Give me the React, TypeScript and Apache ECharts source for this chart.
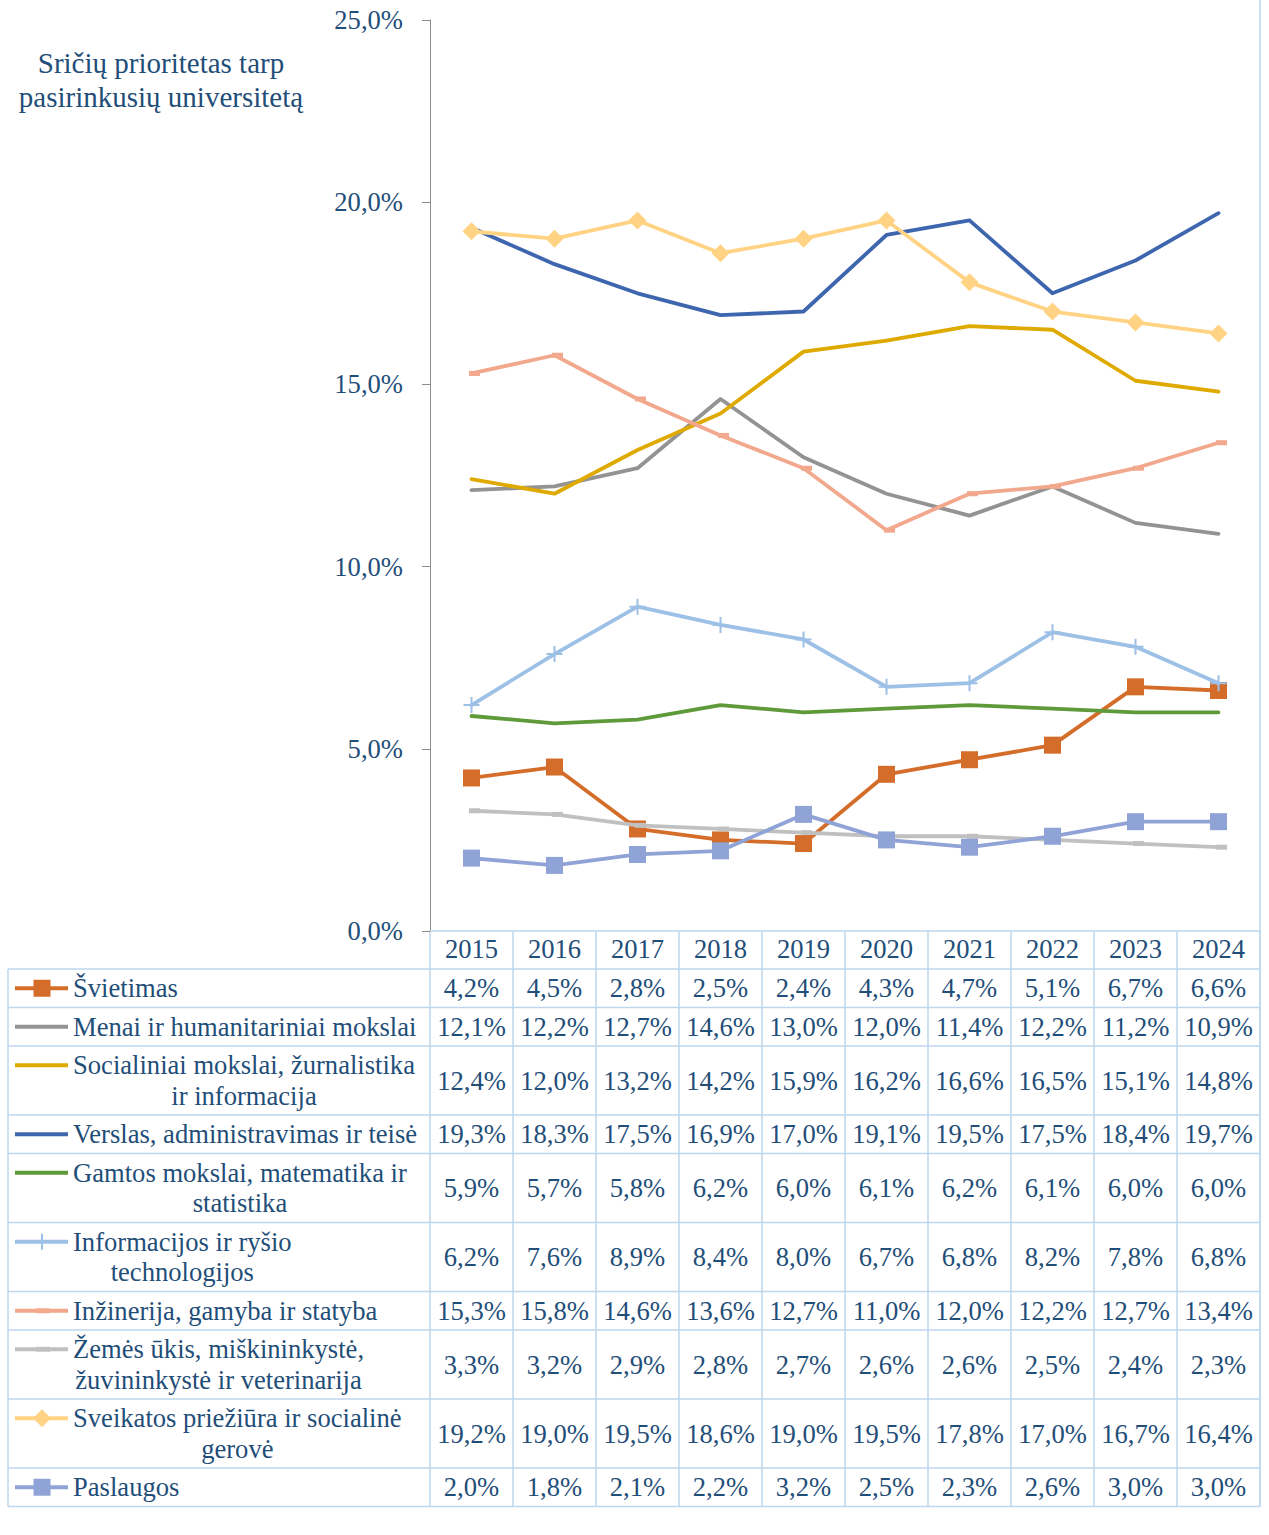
import React, { useEffect, useRef } from "react";
import * as echarts from "echarts";

// ---------- DATA ----------
const years = ["2015", "2016", "2017", "2018", "2019", "2020", "2021", "2022", "2023", "2024"];

const seriesNames = [
  "Švietimas",
  "Menai ir humanitariniai mokslai",
  "Socialiniai mokslai, žurnalistika\nir informacija",
  "Verslas, administravimas ir teisė",
  "Gamtos mokslai, matematika ir\nstatistika",
  "Informacijos ir ryšio\ntechnologijos",
  "Inžinerija, gamyba ir statyba",
  "Žemės ūkis, miškininkystė,\nžuvininkystė ir veterinarija",
  "Sveikatos priežiūra ir socialinė\ngerovė",
  "Paslaugos",
];

const svietimas = [4.2, 4.5, 2.8, 2.5, 2.4, 4.3, 4.7, 5.1, 6.7, 6.6];
const menai = [12.1, 12.2, 12.7, 14.6, 13.0, 12.0, 11.4, 12.2, 11.2, 10.9];
const socialiniai = [12.4, 12.0, 13.2, 14.2, 15.9, 16.2, 16.6, 16.5, 15.1, 14.8];
const verslas = [19.3, 18.3, 17.5, 16.9, 17.0, 19.1, 19.5, 17.5, 18.4, 19.7];
const gamtos = [5.9, 5.7, 5.8, 6.2, 6.0, 6.1, 6.2, 6.1, 6.0, 6.0];
const informacijos = [6.2, 7.6, 8.9, 8.4, 8.0, 6.7, 6.8, 8.2, 7.8, 6.8];
const inzinerija = [15.3, 15.8, 14.6, 13.6, 12.7, 11.0, 12.0, 12.2, 12.7, 13.4];
const zemes = [3.3, 3.2, 2.9, 2.8, 2.7, 2.6, 2.6, 2.5, 2.4, 2.3];
const sveikatos = [19.2, 19.0, 19.5, 18.6, 19.0, 19.5, 17.8, 17.0, 16.7, 16.4];
const paslaugos = [2.0, 1.8, 2.1, 2.2, 3.2, 2.5, 2.3, 2.6, 3.0, 3.0];

const seriesValues = [svietimas, menai, socialiniai, verslas, gamtos, informacijos, inzinerija, zemes, sveikatos, paslaugos];

const seriesColors = [
  "#D46D2A",
  "#939393",
  "#DFAA00",
  "#3E66AE",
  "#5E9A3A",
  "#9DC0E6",
  "#F2A88C",
  "#C0C0C0",
  "#FFD383",
  "#8FA3D6",
];

type MarkerKind = "none" | "square" | "diamond" | "plus" | "dash";
const markerKinds: MarkerKind[] = ["square", "none", "none", "none", "none", "plus", "dash", "dash", "diamond", "square"];

const titleLines = ["Sričių prioritetas tarp", "pasirinkusių universitetą"];

// ---------- STYLE / LAYOUT ----------
const FONT = '"Liberation Serif", "Times New Roman", serif';
const TEXT_COLOR = "#1F4E79";
const TABLE_COLOR = "#BDD7EE";
const AXIS_COLOR = "#8C8C8C";
const FS = 26.6;
const TITLE_FS = 29;
const LINE_W = 3.8;

const W = 1269;
const H = 1535;
const GRID_LEFT = 430;
const GRID_TOP = 20;
const GRID_W = 830;
const GRID_H = 911;
const HEADER_H = 38;
const ROW_H = 38.5;
const LINE_STEP = 30.5;
const TABLE_LEFT = 8;
const LEG_LINE_X1 = 15;
const LEG_LINE_X2 = 68;
const LEG_MARK_X = 42;
const LEG_TEXT_X = 73;

const PLUS_PATH = "path://M7,0H9V7H16V9H9V16H7V9H0V7H7Z";

const fmt = (v: number) => v.toFixed(1).replace(".", ",") + "%";

function symbolFor(kind: MarkerKind): any {
  switch (kind) {
    case "square":
      return { symbol: "rect", symbolSize: 17, showSymbol: true };
    case "diamond":
      return { symbol: "diamond", symbolSize: 18, showSymbol: true };
    case "plus":
      return { symbol: PLUS_PATH, symbolSize: 16, showSymbol: true };
    case "dash":
      return { symbol: "rect", symbolSize: [11, 5], symbolOffset: [3, 0], showSymbol: true };
    default:
      return { symbol: "none", showSymbol: false };
  }
}

function legendMarker(kind: MarkerKind, color: string, cy: number): any[] {
  const els: any[] = [
    {
      type: "line",
      shape: { x1: LEG_LINE_X1, y1: cy, x2: LEG_LINE_X2, y2: cy },
      style: { stroke: color, lineWidth: LINE_W },
    },
  ];
  if (kind === "square") {
    els.push({ type: "rect", shape: { x: LEG_MARK_X - 8.5, y: cy - 8.5, width: 17, height: 17 }, style: { fill: color } });
  } else if (kind === "diamond") {
    els.push({
      type: "polygon",
      shape: { points: [[LEG_MARK_X, cy - 9], [LEG_MARK_X + 9, cy], [LEG_MARK_X, cy + 9], [LEG_MARK_X - 9, cy]] },
      style: { fill: color },
    });
  } else if (kind === "plus") {
    els.push({ type: "rect", shape: { x: LEG_MARK_X - 1, y: cy - 8, width: 2, height: 16 }, style: { fill: color } });
    els.push({ type: "rect", shape: { x: LEG_MARK_X - 8, y: cy - 1, width: 16, height: 2 }, style: { fill: color } });
  } else if (kind === "dash") {
    els.push({ type: "rect", shape: { x: LEG_MARK_X - 6, y: cy - 2.5, width: 14, height: 5 }, style: { fill: color, opacity: 0.9 } });
  }
  return els;
}

export default function App() {
  const ref = useRef<HTMLDivElement | null>(null);

  useEffect(() => {
    if (!ref.current) return;
    const chart = echarts.init(ref.current, null, { renderer: "svg" });

    const series = seriesNames.map((name, i) => ({
      name,
      type: "line",
      data: seriesValues[i],
      z: 2 + i,
      silent: true,
      ...symbolFor(markerKinds[i]),
      itemStyle: { color: seriesColors[i] },
      lineStyle: { color: seriesColors[i], width: LINE_W, cap: "round", join: "round" },
      emphasis: { disabled: true },
    }));

    chart.setOption({
      animation: false,
      backgroundColor: "#ffffff",
      grid: { left: GRID_LEFT, top: GRID_TOP, width: GRID_W, height: GRID_H, containLabel: false },
      xAxis: {
        type: "category",
        data: years,
        boundaryGap: true,
        axisLine: { show: true, lineStyle: { color: TABLE_COLOR, width: 1.5 } },
        axisTick: { show: false },
        axisLabel: {
          show: true,
          margin: 18,
          verticalAlign: "middle",
          color: TEXT_COLOR,
          fontFamily: FONT,
          fontSize: FS,
          interval: 0,
        },
        splitLine: { show: false },
      },
      yAxis: {
        type: "value",
        min: 0,
        max: 25,
        interval: 5,
        axisLine: { show: true, lineStyle: { color: AXIS_COLOR, width: 1 } },
        axisTick: { show: true, length: 8, lineStyle: { color: AXIS_COLOR, width: 1 } },
        axisLabel: {
          formatter: (v: number) => fmt(v),
          margin: 27,
          color: TEXT_COLOR,
          fontFamily: FONT,
          fontSize: FS,
        },
        splitLine: { show: false },
      },
      series,
    });

    // column geometry from the axis scale
    const centers = years.map((y) => chart.convertToPixel({ xAxisIndex: 0 }, y) as number);
    const cw = centers.length > 1 ? centers[1] - centers[0] : GRID_W;
    const bounds = [centers[0] - cw / 2, ...centers.map((c) => c + cw / 2)];
    const headerTop = chart.convertToPixel({ yAxisIndex: 0 }, 0) as number;
    const tableRight = bounds[bounds.length - 1];

    const canvas = document.createElement("canvas");
    const ctx = canvas.getContext("2d")!;
    ctx.font = `${FS}px "Liberation Serif"`;

    const els: any[] = [];

    // title
    titleLines.forEach((t, i) => {
      els.push({
        type: "text",
        x: 161,
        y: 63 + i * 34,
        style: {
          text: t,
          fill: TEXT_COLOR,
          fontFamily: FONT,
          fontSize: TITLE_FS,
          align: "center",
          verticalAlign: "middle",
        },
      });
    });

    // row geometry
    const rowTops: number[] = [];
    const rowHeights: number[] = [];
    let y = headerTop + HEADER_H;
    seriesNames.forEach((n) => {
      const lines = n.split("\n").length;
      const h = ROW_H + (lines - 1) * LINE_STEP;
      rowTops.push(y);
      rowHeights.push(h);
      y += h;
    });
    const tableBottom = y;

    // right border of the chart / table
    els.push({
      type: "line",
      shape: { x1: tableRight, y1: 0, x2: tableRight, y2: tableBottom },
      style: { stroke: TABLE_COLOR, lineWidth: 1.5 },
    });
    // vertical dividers of year columns
    bounds.forEach((bx) => {
      els.push({
        type: "line",
        shape: { x1: bx, y1: headerTop, x2: bx, y2: tableBottom },
        style: { stroke: TABLE_COLOR, lineWidth: 1.5 },
      });
    });
    // left border
    els.push({
      type: "line",
      shape: { x1: TABLE_LEFT, y1: rowTops[0], x2: TABLE_LEFT, y2: tableBottom },
      style: { stroke: TABLE_COLOR, lineWidth: 1.5 },
    });
    // horizontal lines
    [rowTops[0], ...rowTops.map((t, i) => t + rowHeights[i])].forEach((hy) => {
      els.push({
        type: "line",
        shape: { x1: TABLE_LEFT, y1: hy, x2: tableRight, y2: hy },
        style: { stroke: TABLE_COLOR, lineWidth: 1.5 },
      });
    });

    // rows
    seriesNames.forEach((name, r) => {
      const top = rowTops[r];
      const h = rowHeights[r];
      const markY = top + ROW_H / 2;
      els.push(...legendMarker(markerKinds[r], seriesColors[r], markY));
      const lines = name.split("\n");
      if (lines.length === 1) {
        els.push({
          type: "text",
          x: LEG_TEXT_X,
          y: top + h / 2,
          style: { text: name, fill: TEXT_COLOR, fontFamily: FONT, fontSize: FS, align: "left", verticalAlign: "middle" },
        });
      } else {
        const maxW = Math.max(...lines.map((l) => ctx.measureText(l).width));
        els.push({
          type: "text",
          x: LEG_TEXT_X + maxW / 2,
          y: markY - LINE_STEP / 2,
          style: {
            text: name,
            fill: TEXT_COLOR,
            fontFamily: FONT,
            fontSize: FS,
            align: "center",
            verticalAlign: "top",
            lineHeight: LINE_STEP,
          },
        });
      }
      seriesValues[r].forEach((v, i) => {
        els.push({
          type: "text",
          x: centers[i],
          y: top + h / 2,
          style: { text: fmt(v), fill: TEXT_COLOR, fontFamily: FONT, fontSize: FS, align: "center", verticalAlign: "middle" },
        });
      });
    });

    chart.setOption({ graphic: els });

    return () => {
      chart.dispose();
    };
  }, []);

  return (
    <div
      ref={ref}
      style={{ position: "absolute", left: 0, top: 0, width: W, height: H, background: "#ffffff" }}
    />
  );
}
